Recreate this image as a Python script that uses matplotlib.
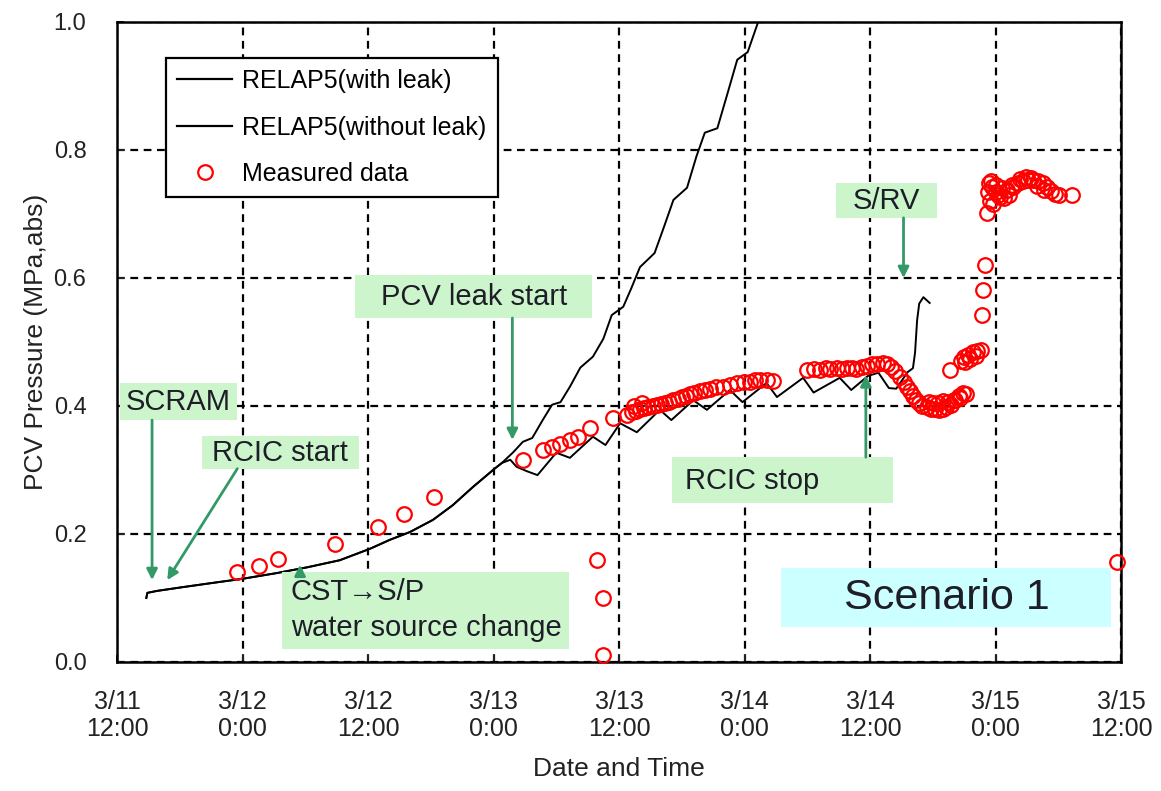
import matplotlib.pyplot as plt
from matplotlib.lines import Line2D
from matplotlib.patches import Rectangle

# time axis: hours after 3/11 12:00
tick_hours = [0, 12, 24, 36, 48, 60, 72, 84, 96]
tick_labels = ["3/11\n12:00", "3/12\n0:00", "3/12\n12:00", "3/13\n0:00", "3/13\n12:00",
               "3/14\n0:00", "3/14\n12:00", "3/15\n0:00", "3/15\n12:00"]

# RELAP5 curves share the first part up to the leak start
common_t = [2.8, 2.9, 3.8, 6.3, 8.9, 12.0, 15.3, 18.2, 21.3, 24.2, 26.1, 28.0, 30.2, 32.1, 34.0, 36.1, 36.8]
common_p = [0.100, 0.108, 0.111, 0.117, 0.123, 0.130, 0.139, 0.148, 0.159, 0.177, 0.191, 0.203, 0.222,
            0.245, 0.273, 0.302, 0.311]

rise_t = [37.9, 38.8, 39.7, 40.7, 41.6, 42.4, 43.3, 44.3, 45.5, 46.5, 47.3, 48.4, 49.2, 50.0, 51.4,
          52.3, 53.2, 54.5, 55.4, 56.2, 57.4, 58.4, 59.3, 60.3, 61.3, 61.8]
rise_p = [0.328, 0.344, 0.350, 0.378, 0.402, 0.406, 0.430, 0.460, 0.477, 0.505, 0.542, 0.555, 0.585,
          0.617, 0.639, 0.680, 0.722, 0.741, 0.790, 0.827, 0.834, 0.890, 0.941, 0.953, 1.000, 1.030]

saw_t = [37.6, 38.2, 39.2, 40.2, 42.0, 43.3, 45.5, 46.7, 48.1, 49.7, 51.9, 53.0, 55.1, 56.4, 58.6,
         59.8, 62.1, 63.1, 65.6, 66.6, 69.1, 70.2, 71.8, 72.8, 73.8, 74.5, 75.6, 76.1, 76.3, 76.5,
         76.7, 77.1, 77.7]
saw_p = [0.316, 0.305, 0.298, 0.292, 0.327, 0.319, 0.352, 0.339, 0.373, 0.359, 0.394, 0.378, 0.409,
         0.394, 0.425, 0.406, 0.436, 0.414, 0.444, 0.421, 0.444, 0.425, 0.447, 0.452, 0.428, 0.427,
         0.453, 0.459, 0.483, 0.534, 0.560, 0.570, 0.561]

# measured PCV pressure
meas_t = [11.5, 13.6, 15.4, 20.8, 25.0, 27.4, 30.3,
          38.8, 40.7, 41.6, 42.4, 43.3, 44.1, 45.2, 47.4,
          45.9, 46.5, 46.5,
          48.8, 49.2, 49.4, 49.6, 50.0, 50.2, 50.4, 50.8, 51.2, 51.6, 52.0, 52.4, 52.8, 53.2, 53.6,
          54.0, 54.4, 54.8, 55.2, 55.7, 56.2, 56.7, 57.3, 57.9, 58.6, 59.3, 59.9, 60.5, 61.0, 61.5,
          62.1, 62.7,
          66.0, 66.6, 67.2, 67.8, 68.2, 68.8, 69.3, 69.8, 70.3, 70.7, 71.2, 71.7, 72.2, 72.7, 73.2,
          73.6, 74.0, 74.4, 74.9, 75.2, 75.5, 75.8, 76.1, 76.4, 76.7, 77.0, 77.4, 77.8, 78.2, 78.6,
          79.0, 79.3, 79.7, 80.1, 80.5, 80.9, 81.2,
          77.6, 78.0, 78.5, 79.0, 79.5, 80.0, 80.6,
          79.6, 80.7, 81.0, 81.4, 81.8, 82.2, 82.6, 81.1, 81.6, 82.1,
          82.7, 82.8, 83.0, 83.2,
          83.3, 83.4, 83.5, 83.7, 83.8, 84.0, 84.2, 84.4, 84.8, 85.3, 85.7, 86.1, 86.6, 87.1, 87.6,
          88.1, 88.5, 88.9, 89.3, 89.7, 90.1, 91.3,
          83.6, 84.0, 84.6, 85.1, 85.6, 86.3, 86.9, 87.4, 88.0, 88.6,
          95.6]
meas_p = [0.141, 0.150, 0.161, 0.184, 0.211, 0.231, 0.258,
          0.316, 0.331, 0.336, 0.340, 0.347, 0.352, 0.366, 0.381,
          0.159, 0.100, 0.011,
          0.386, 0.391, 0.400, 0.392, 0.395, 0.404, 0.397, 0.398, 0.400, 0.402, 0.403, 0.405, 0.407,
          0.409, 0.411, 0.414, 0.416, 0.419, 0.421, 0.423, 0.425, 0.426, 0.429, 0.430, 0.433, 0.436,
          0.437, 0.438, 0.440, 0.441, 0.440, 0.439,
          0.456, 0.458, 0.456, 0.459, 0.458, 0.460, 0.458, 0.459, 0.460, 0.458, 0.461, 0.462, 0.465,
          0.466, 0.467, 0.465, 0.461, 0.455, 0.445, 0.438, 0.430, 0.423, 0.416, 0.410, 0.404, 0.400,
          0.398, 0.396, 0.395, 0.394, 0.396, 0.398, 0.402, 0.410, 0.416, 0.420, 0.418,
          0.406, 0.404, 0.405, 0.408, 0.406, 0.410, 0.412,
          0.456, 0.470, 0.476, 0.480, 0.484, 0.486, 0.487, 0.468, 0.474, 0.478,
          0.542, 0.581, 0.620, 0.702,
          0.735, 0.748, 0.720, 0.742, 0.715, 0.735, 0.730, 0.727, 0.725, 0.730, 0.742, 0.748, 0.752,
          0.753, 0.753, 0.752, 0.749, 0.742, 0.736, 0.731, 0.730, 0.730,
          0.752, 0.745, 0.740, 0.738, 0.745, 0.755, 0.758, 0.757, 0.744, 0.738,
          0.156]

with_leak_t = common_t + saw_t
with_leak_p = common_p + saw_p
without_leak_t = common_t + rise_t
without_leak_p = common_p + rise_p

plt.rcParams["font.family"] = ["Liberation Sans", "DejaVu Sans"]

fig = plt.figure(figsize=(11.61, 7.91), dpi=100)
ax = fig.add_axes([0.1008, 0.1631, 0.8648, 0.8091])

ax.plot(with_leak_t, with_leak_p, color="black", lw=1.4, zorder=3)
ax.plot(without_leak_t, without_leak_p, color="black", lw=1.4, zorder=3)
ax.plot(meas_t, meas_p, "o", mfc="none", mec="red", ms=10.5, mew=1.6, zorder=4, clip_on=False)

ax.set_xlim(0, 96)
ax.set_ylim(0, 1.0)
ax.set_xticks(tick_hours)
ax.set_xticklabels(tick_labels, fontsize=18, linespacing=1.15)
ax.set_yticks([0.0, 0.2, 0.4, 0.6, 0.8, 1.0])
ax.set_yticklabels(["0.0", "0.2", "0.4", "0.6", "0.8", "1.0"], fontsize=17)
ax.tick_params(direction="in", length=5, width=1.4, colors="#222222")
ax.tick_params(axis="x", pad=20)
ax.tick_params(axis="y", pad=22)
ax.grid(True, color="black", linestyle=(0, (3.5, 2.5)), lw=1.6)
for s in ax.spines.values():
    s.set_linewidth(1.8)

ax.set_xlabel("Date and Time", fontsize=19, labelpad=12, color="#222222")
ax.set_ylabel("PCV Pressure (MPa,abs)", fontsize=19, labelpad=4, color="#222222")

handles = [Line2D([], [], color="black", lw=1.6),
           Line2D([], [], color="black", lw=1.6),
           Line2D([], [], ls="none", marker="o", mfc="none", mec="red", ms=10.5, mew=1.6)]
leg = ax.legend(handles, ["RELAP5(with leak)", "RELAP5(without leak)", "Measured data"],
                loc="upper left", bbox_to_anchor=(0.0488, 0.944), fontsize=18,
                fancybox=False, framealpha=1, edgecolor="black", handlelength=2.2,
                handletextpad=0.4, labelspacing=0.9, borderpad=0.45, borderaxespad=0)
leg.get_frame().set_linewidth(1.6)
leg.set_zorder(6)

green = "#ccf5cc"
arrow_green = "#339966"
txt = "#1e1e28"


def box(x0, x1, y0, y1, fc=green):
    ax.add_patch(Rectangle((x0, y0), x1 - x0, y1 - y0, fc=fc, ec="none", zorder=5))


def label(x, y, s, size=21, ha="center"):
    ax.text(x, y, s, fontsize=size, color=txt, ha=ha, va="center", zorder=6)


def arrow(x0, y0, x1, y1):
    ax.annotate("", xy=(x1, y1), xytext=(x0, y0), zorder=6,
                arrowprops=dict(arrowstyle="-|>", color=arrow_green, lw=2, mutation_scale=16,
                                shrinkA=0, shrinkB=0))


box(0.29, 11.47, 0.378, 0.436)
label(5.8, 0.406, "SCRAM")
arrow(3.35, 0.378, 3.35, 0.128)

box(8.13, 23.14, 0.302, 0.353)
label(15.6, 0.326, "RCIC start")
arrow(11.5, 0.302, 4.8, 0.128)

box(22.76, 45.42, 0.5375, 0.605)
label(34.1, 0.570, "PCV leak start")
arrow(37.8, 0.5375, 37.8, 0.347)

box(15.78, 43.22, 0.0203, 0.1406)
label(16.6, 0.109, "CST\u2192S/P", ha="left")
label(16.6, 0.053, "water source change", ha="left")
arrow(17.5, 0.1406, 17.5, 0.152)

box(53.07, 74.2, 0.248, 0.320)
label(54.3, 0.283, "RCIC stop", ha="left")
arrow(71.6, 0.320, 71.6, 0.448)

box(68.75, 78.4, 0.694, 0.748)
label(73.6, 0.720, "S/RV")
arrow(75.2, 0.694, 75.2, 0.600)

box(63.5, 95.05, 0.055, 0.147, fc="#ccffff")
label(79.3, 0.100, "Scenario 1", size=31)

fig.savefig("out.png", dpi=100)
